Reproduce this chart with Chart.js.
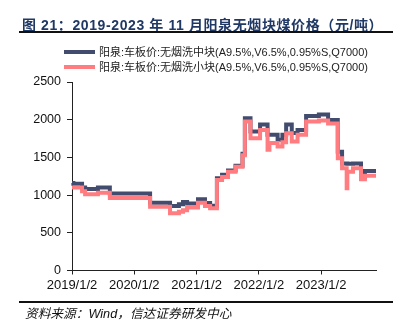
<!DOCTYPE html>
<html>
<head>
<meta charset="utf-8">
<script src="https://cdn.jsdelivr.net/npm/chart.js@4.4.0/dist/chart.umd.min.js"></script>
<style>
    html, body { margin: 0; padding: 0; background: #fff; }
    #wrap { position: relative; width: 406px; height: 322px; overflow: hidden; }
    #chart { position: absolute; left: 0; top: 0; }
    .title {
        position: absolute; left: 22px; top: 14px; white-space: nowrap; letter-spacing: 0.6px;
        font: bold 14px "Liberation Sans", "Noto Sans CJK SC", sans-serif; color: #203864;
    }
    .rule { position: absolute; left: 19px; width: 374px; height: 2px; background: #111; }
    .legend { position: absolute; left: 64px; white-space: nowrap; font: 11px "Liberation Sans", "Noto Sans CJK SC", sans-serif; color: #222; }
    .legend i { display: inline-block; width: 31px; height: 4px; vertical-align: middle; margin-right: 4px; position: relative; top: -1px; }
    .source {
        position: absolute; left: 25px; top: 303px; white-space: nowrap;
        font: italic 12.7px "Liberation Sans", "Noto Sans CJK SC", sans-serif; color: #111;
    }
</style>
</head>
<body>
<div id="wrap">
    <canvas id="chart" width="406" height="322"></canvas>
    <div class="title">图 21：2019-2023 年 11 月阳泉无烟块煤价格（元/吨）</div>
    <div class="rule" style="top: 31px;"></div>
    <div class="legend" style="top: 43px;"><i style="background: #424c6e;"></i>阳泉:车板价:无烟洗中块(A9.5%,V6.5%,0.95%S,Q7000)</div>
    <div class="legend" style="top: 58px;"><i style="background: #ff7c80;"></i>阳泉:车板价:无烟洗小块(A9.5%,V6.5%,0.95%S,Q7000)</div>
    <div class="rule" style="top: 301px;"></div>
    <div class="source">资料来源：Wind，信达证券研发中心</div>
</div>
<script>
    // price change dates (values hold from that date on)
    const dates = [
        '2019-01-02', '2019-01-10', '2019-03-02', '2019-03-20', '2019-06-03', '2019-08-12',
        '2020-04-04', '2020-07-30', '2020-09-20', '2020-10-14', '2020-11-07',
        '2021-01-10', '2021-02-20', '2021-03-22', '2021-05-01', '2021-05-31', '2021-07-05',
        '2021-08-18', '2021-09-28', '2021-10-12', '2021-11-14',
        '2022-01-09', '2022-02-22', '2022-03-05', '2022-04-22', '2022-05-20', '2022-06-11',
        '2022-07-14', '2022-08-17', '2022-10-06', '2022-12-20',
        '2023-02-12', '2023-04-10', '2023-05-05', '2023-06-01', '2023-06-05', '2023-07-08',
        '2023-08-24', '2023-09-16', '2023-11-20'
    ];

    // 无烟洗中块
    const midBlock = [
        1160, 1150, 1100, 1080, 1100, 1020,
        900, 855, 880, 910, 890,
        945, 895, 860, 1225, 1270, 1325,
        1390, 1550, 2020, 1845,
        1935, 1800, 1800, 1735, 1800, 1935,
        1825, 1865, 2050, 2070,
        1995, 1575, 1420, 1420, 1415, 1420,
        1245, 1320, 1320
    ];

    // 无烟洗小块
    const smallBlock = [
        1100, 1100, 1050, 1010, 1030, 960,
        845, 760, 780, 800, 835,
        900, 855, 825, 1200, 1240, 1310,
        1375, 1530, 1975, 1755,
        1865, 1600, 1690, 1645, 1700, 1820,
        1710, 1800, 1975, 1990,
        1950, 1490, 1355, 1090, 1310, 1355,
        1210, 1255, 1255
    ];

    const tickDates = ['2019-01-02', '2020-01-02', '2021-01-02', '2022-01-02', '2023-01-02'];
    const tickLabels = ['2019/1/2', '2020/1/2', '2021/1/2', '2022/1/2', '2023/1/2'];
    const yTicks = [0, 500, 1000, 1500, 2000, 2500];

    const seriesNames = [
        '阳泉:车板价:无烟洗中块(A9.5%,V6.5%,0.95%S,Q7000)',
        '阳泉:车板价:无烟洗小块(A9.5%,V6.5%,0.95%S,Q7000)'
    ];

    const start = Date.parse(dates[0]);
    const dayIndex = (d) => (Date.parse(d) - start) / 86400000;

    const toPoints = (values) => dates.map((d, i) => ({x: dayIndex(d), y: values[i]}));

    const axisColor = '#222';

    new Chart(document.getElementById('chart'), {
        type: 'line',
        data: {
            datasets: [{
                label: seriesNames[0],
                data: toPoints(midBlock),
                borderColor: '#424c6e',
                borderWidth: 4,
                stepped: true,
                pointRadius: 0,
                clip: false,
                order: 1
            }, {
                label: seriesNames[1],
                data: toPoints(smallBlock),
                borderColor: '#ff7c80',
                borderWidth: 4,
                stepped: true,
                pointRadius: 0,
                clip: false,
                order: 0
            }]
        },
        options: {
            responsive: false,
            animation: false,
            layout: {padding: {top: 82, right: 30, bottom: 0, left: 0}},
            plugins: {
                legend: {display: false},
                tooltip: {enabled: false}
            },
            scales: {
                x: {
                    type: 'linear',
                    min: 0,
                    max: dayIndex(dates[dates.length - 1]),
                    afterBuildTicks: (scale) => {
                        scale.ticks = tickDates.map((d) => ({value: dayIndex(d)}));
                    },
                    afterFit: (scale) => {
                        scale.height = 51.5;
                    },
                    grid: {drawOnChartArea: false, tickLength: 4, color: axisColor},
                    border: {color: axisColor, width: 1},
                    ticks: {
                        autoSkip: false,
                        maxRotation: 0,
                        padding: 3,
                        color: '#111',
                        font: {family: 'Liberation Sans', size: 13},
                        callback: (v, i) => tickLabels[i]
                    }
                },
                y: {
                    min: yTicks[0],
                    max: yTicks[yTicks.length - 1],
                    afterBuildTicks: (scale) => {
                        scale.ticks = yTicks.map((v) => ({value: v}));
                    },
                    afterFit: (scale) => {
                        scale.width = 72;
                    },
                    grid: {drawOnChartArea: false, tickLength: 5, color: axisColor},
                    border: {color: axisColor, width: 1},
                    ticks: {
                        padding: 6,
                        color: '#111',
                        font: {family: 'Liberation Sans', size: 12.5},
                        callback: (v) => String(v)
                    }
                }
            }
        }
    });
</script>
</body>
</html>
